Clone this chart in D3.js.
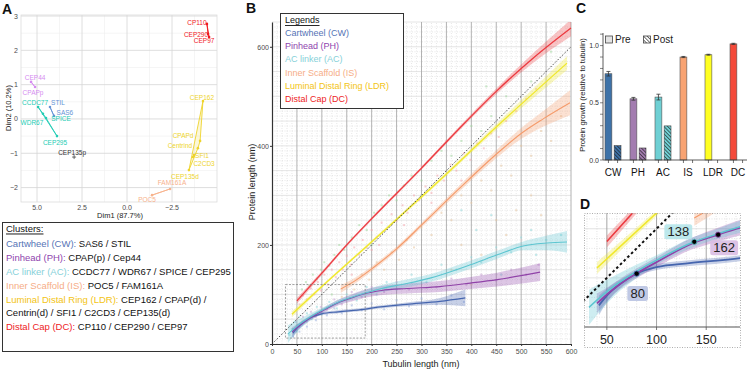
<!DOCTYPE html>
<html>
<head>
<meta charset="utf-8">
<title>Centriole protein growth</title>
<script src="https://d3js.org/d3.v7.min.js"></script>
<style>
  body { margin: 0; background: #fff; }
  svg { display: block; font-family: 'Liberation Sans', Arial, Helvetica, sans-serif; }
</style>
</head>
<body>
<div class="chart"></div>
<script>
// ---------- data ----------
var clusterKeys = ['CW', 'PH', 'AC', 'IS', 'LDR', 'DC']
var clusterNames = ['Cartwheel (CW)', 'Pinhead (PH)', 'AC linker (AC)', 'Inner Scaffold (IS)', 'Luminal Distal Ring (LDR)', 'Distal Cap (DC)']
var clusterMembers = [
  ['SAS6 / STIL'],
  ['CPAP(p) / Cep44'],
  ['CCDC77 / WDR67 / SPICE / CEP295'],
  ['POC5 / FAM161A'],
  ['CEP162 / CPAP(d) /', 'Centrin(d) / SFI1 / C2CD3 / CEP135(d)'],
  ['CP110 / CEP290 / CEP97']
]

// panel A : PCA
var pcaGene = ['SAS6', 'STIL', 'CPAPp', 'CEP44', 'CCDC77', 'WDR67', 'SPICE', 'CEP295', 'POC5', 'FAM161A',
  'CEP162', 'CPAPd', 'Centrind', 'SFI1', 'C2CD3', 'CEP135d', 'CP110', 'CEP290', 'CEP97', 'CEP135p']
var pcaCluster = ['CW', 'CW', 'PH', 'PH', 'AC', 'AC', 'AC', 'AC', 'IS', 'IS',
  'LDR', 'LDR', 'LDR', 'LDR', 'LDR', 'LDR', 'DC', 'DC', 'DC', 'none']
var pcaDim1 = [4.06, 4.28, 5.11, 5.33, 4.94, 4.67, 4.50, 3.89, -1.39, -2.39,
  -4.22, -4.06, -3.94, -3.72, -3.67, -3.44, -4.44, -4.50, -4.56, 2.94]
var pcaDim2 = [0.09, 0.35, 0.93, 1.08, 0.35, 0.15, 0.03, -0.50, -2.22, -2.04,
  0.52, -0.64, -0.85, -1.05, -1.11, -1.49, 2.77, 2.48, 2.39, -1.11]
var pcaXTicks = [5, 2.5, 0, -2.5]
var pcaYTicks = [-2, -1, 0, 1, 2, 3]

// panel B : fitted curves [tubulin, protein, band half-width]
var fitCW = [[42, 22, 10], [50, 32, 7], [65, 45, 4], [79, 54, 3], [100, 61, 3], [133, 65, 3], [184, 70, 3], [203, 73, 3], [270, 80, 4], [337, 86, 7], [388, 93, 17]]
var fitPH = [[40, 24, 10], [50, 33, 7], [65, 45, 5], [79, 54, 5], [100, 66, 5], [136, 85, 6], [159, 93, 7], [184, 101, 8], [220, 108, 9], [271, 112, 10], [337, 116, 11], [398, 123, 12], [452, 130, 14], [538, 145, 18]]
var fitAC = [[32, 20, 18], [50, 36, 12], [79, 56, 7], [100, 68, 5], [136, 86, 5], [159, 94, 5], [184, 102, 6], [220, 112, 7], [270, 122, 8], [317, 133, 8], [398, 160, 8], [452, 180, 8], [504, 198, 9], [552, 204, 15], [592, 206, 22]]
var fitIS = [[138, 111, 8], [170, 130, 6], [203, 154, 5], [250, 192, 5], [303, 243, 5], [375, 313, 6], [450, 383, 8], [500, 425, 11], [545, 455, 16], [598, 487, 25]]
var fitLDR = [[40, 60, 6], [100, 116, 3], [193, 200, 3], [337, 331, 4], [450, 438, 6], [592, 567, 14]]
var fitDC = [[50, 87, 6], [100, 143, 4], [150, 200, 3], [200, 253, 3], [300, 355, 3], [373, 432, 4], [450, 510, 6], [525, 578, 10], [600, 638, 17]]

// panel B : raw measurements (approximate, read off the cloud)
var ptsDC = [[55, 80], [62, 98], [70, 90], [78, 112], [85, 100], [92, 125], [98, 108], [105, 140], [112, 120], [120, 150], [128, 135], [135, 165], [142, 150], [150, 178], [158, 160], [165, 195], [175, 180], [182, 210], [190, 195], [200, 230], [210, 215], [220, 245], [230, 232], [240, 262], [250, 248], [262, 280], [272, 265], [285, 300], [295, 290], [308, 318], [320, 305], [332, 340], [345, 330], [358, 362], [370, 350], [385, 385], [398, 372], [412, 405], [425, 395], [440, 425], [455, 418], [470, 450], [490, 470], [510, 495], [530, 515], [250, 300], [300, 360], [350, 410], [200, 190], [160, 140], [215, 200], [265, 240], [320, 285], [380, 330]]
var ptsLDR = [[60, 110], [68, 125], [75, 118], [82, 140], [90, 132], [98, 150], [105, 165], [115, 158], [125, 180], [135, 200], [145, 190], [160, 215], [175, 240], [190, 230], [205, 265], [220, 280], [235, 300], [250, 290], [265, 320], [280, 340], [300, 330], [320, 370], [340, 390], [360, 380], [380, 410], [400, 440], [420, 430], [440, 460], [120, 100], [200, 200], [300, 300], [430, 520], [470, 500], [520, 530], [560, 590]]
var ptsIS = [[140, 95], [150, 120], [165, 110], [180, 140], [195, 130], [210, 165], [225, 150], [240, 185], [255, 170], [270, 210], [285, 195], [300, 235], [320, 220], [340, 265], [360, 250], [380, 300], [400, 285], [420, 330], [440, 310], [460, 360], [480, 340], [500, 400], [520, 380], [540, 430], [560, 410], [580, 460], [380, 200], [420, 180], [450, 250], [490, 270], [520, 300], [360, 150], [400, 120], [470, 220], [540, 260]]
var ptsAC = [[35, 18], [40, 30], [45, 45], [50, 25], [55, 55], [60, 40], [70, 62], [80, 50], [90, 75], [100, 60], [115, 85], [130, 72], [150, 100], [170, 88], [190, 115], [210, 100], [230, 125], [250, 110], [280, 140], [310, 125], [340, 160], [370, 150], [400, 175], [420, 165], [450, 195], [480, 185], [500, 215], [520, 230], [550, 210], [580, 220], [410, 230], [440, 260], [380, 270], [460, 140], [530, 180]]
var ptsPH = [[42, 30], [48, 45], [55, 35], [62, 55], [70, 45], [78, 65], [88, 55], [98, 75], [110, 70], [125, 90], [140, 80], [160, 105], [180, 95], [200, 115], [225, 105], [250, 125], [275, 110], [300, 128], [330, 115], [360, 132], [390, 120], [420, 140], [450, 128], [480, 150], [510, 140], [535, 160]]
var ptsCW = [[42, 15], [48, 30], [55, 25], [62, 45], [70, 35], [78, 55], [88, 48], [98, 65], [110, 58], [125, 72], [140, 62], [160, 78], [180, 68], [200, 82], [225, 70], [250, 88], [275, 76], [300, 92], [330, 80], [360, 98], [385, 85]]
var zoomBox = [27, 187, 12, 120]  // tubulin min/max, protein min/max

// panel C : growth relative to tubulin
var growthPre = [0.754, 0.535, 0.550, 0.900, 0.920, 1.015]
var growthPreErr = [0.020, 0.012, 0.025, 0.005, 0.004, 0.005]
var growthPost = [0.125, 0.105, 0.298, null, null, null]

// panel D : highlighted tubulin lengths
var markLength = [80, 138, 162]
var markCluster = ['CW', 'AC', 'PH']

// ---------- styling ----------
var W = 749, H = 369
var legendColor = { CW: '#5674b6', PH: '#8f45ae', AC: '#86d1d9', IS: '#f6ad87', LDR: '#f3c414', DC: '#ee1c25' }
var pcaColor = { CW: '#6493d6', PH: '#d58cf0', AC: '#22ccb4', IS: '#f7b28c', LDR: '#eed42c', DC: '#f0191e', none: '#333' }
var lineColor = { CW: '#4565ae', PH: '#9042a8', AC: '#5cc5d0', IS: '#f59b6b', LDR: '#f0e82c', DC: '#ec3a40' }
var ptColor = { CW: '#9fb2de', PH: '#c9a0d4', AC: '#8fd8dd', IS: '#e8c6a0', LDR: '#a3d9a0', DC: '#f4a8ae' }
var barColor = { CW: '#3d72a8', PH: '#a37cb0', AC: '#6fd0d4', IS: '#f8a372', LDR: '#ffff22', DC: '#f44a3a' }

var fits = { CW: fitCW, PH: fitPH, AC: fitAC, IS: fitIS, LDR: fitLDR, DC: fitDC }
var pts = { CW: ptsCW, PH: ptsPH, AC: ptsAC, IS: ptsIS, LDR: ptsLDR, DC: ptsDC }

var svg = d3.select('.chart').append('svg').attr('width', W).attr('height', H)
var defs = svg.append('defs')

function panelLetter(t, x, y) {
  svg.append('text').attr('x', x).attr('y', y).attr('font-size', 14).attr('font-weight', 'bold').attr('fill', '#111').text(t)
}

/**
 * Panel A : PCA with convex hulls
 */
var xA = d3.scaleLinear().domain([5.89, -5.0]).range([21, 217])
var yA = d3.scaleLinear().domain([-2.42, 3.03]).range([202, 15])
var gA = svg.append('g')

d3.range(-3.75, 5.9, 2.5).forEach(function (v) {
  gA.append('line').attr('x1', xA(v)).attr('x2', xA(v)).attr('y1', 15).attr('y2', 202).attr('stroke', '#efefef').attr('stroke-width', 0.6)
})
d3.range(-2.5, 3.1, 1).forEach(function (v) {
  if (yA(v) <= 202) gA.append('line').attr('x1', 21).attr('x2', 217).attr('y1', yA(v)).attr('y2', yA(v)).attr('stroke', '#efefef').attr('stroke-width', 0.6)
})
pcaXTicks.forEach(function (v) {
  gA.append('line').attr('x1', xA(v)).attr('x2', xA(v)).attr('y1', 15).attr('y2', 202).attr('stroke', '#d6d6d6').attr('stroke-width', 0.8)
  gA.append('text').attr('x', xA(v)).attr('y', 210).attr('text-anchor', 'middle').attr('font-size', 7).attr('fill', '#4d4d4d').text(d3.format('.1f')(v).replace('-', '\u2212'))
})
pcaYTicks.forEach(function (v) {
  gA.append('line').attr('x1', 21).attr('x2', 217).attr('y1', yA(v)).attr('y2', yA(v)).attr('stroke', '#d6d6d6').attr('stroke-width', 0.8)
  gA.append('text').attr('x', 18).attr('y', yA(v) + 2.5).attr('text-anchor', 'end').attr('font-size', 7).attr('fill', '#4d4d4d').text(String(v).replace('-', '\u2212'))
})
gA.append('rect').attr('x', 21).attr('y', 15).attr('width', 196).attr('height', 187).attr('fill', 'none').attr('stroke', '#dcdcdc').attr('stroke-width', 0.8)

var pca = pcaGene.map(function (g, i) {
  return { gene: g, cl: pcaCluster[i], x: xA(pcaDim1[i]), y: yA(pcaDim2[i]) }
})
// label nudges (px), same order as pcaGene
var pcaNudge = [[11, -3], [8, -4], [-2, 5], [4, -4], [-3, -4], [-11, 9], [15, 1], [-2, 6], [-5, 4], [2, -6],
  [-1, -4], [-17, -5], [-18, -3], [8, 1], [11, 6], [-4, 6], [-10, -1], [-12, 1], [-5, 4], [-2, -5]]

clusterKeys.forEach(function (k) {
  var p = pca.filter(function (d) { return d.cl === k }).map(function (d) { return [d.x, d.y] })
  var hull = p.length >= 3 ? d3.polygonHull(p) : p
  gA.append('path').attr('d', 'M' + hull.join('L') + 'Z')
    .attr('fill', pcaColor[k]).attr('fill-opacity', 0.18)
    .attr('stroke', pcaColor[k]).attr('stroke-width', 0.9).attr('stroke-linejoin', 'round')
})
pca.forEach(function (d, i) {
  if (d.cl === 'none') {
    gA.append('path').attr('d', 'M' + (d.x - 2) + ',' + d.y + 'h4M' + d.x + ',' + (d.y - 2) + 'v4').attr('stroke', '#333').attr('stroke-width', 0.7)
  } else {
    gA.append('circle').attr('cx', d.x).attr('cy', d.y).attr('r', 1.3).attr('fill', pcaColor[d.cl])
  }
  gA.append('text').attr('x', d.x + pcaNudge[i][0]).attr('y', d.y + pcaNudge[i][1])
    .attr('text-anchor', 'middle').attr('dominant-baseline', 'central')
    .attr('font-size', 6.5).attr('fill', pcaColor[d.cl]).text(d.gene)
})
gA.append('text').attr('x', 120).attr('y', 218).attr('text-anchor', 'middle').attr('font-size', 7.5).attr('fill', '#222').text('Dim1 (87.7%)')
gA.append('text').attr('transform', 'translate(11,108) rotate(-90)').attr('text-anchor', 'middle').attr('font-size', 7.5).attr('fill', '#222').text('Dim2 (10.2%)')
panelLetter('A', 2, 14)

// cluster legend box
var gAL = svg.append('g')
gAL.append('rect').attr('x', 2.5).attr('y', 222.5).attr('width', 231).attr('height', 129).attr('fill', '#fff').attr('stroke', '#333').attr('stroke-width', 1)
gAL.append('text').attr('x', 6).attr('y', 228).attr('dominant-baseline', 'central').attr('font-size', 9.5)
  .attr('text-decoration', 'underline').attr('fill', '#111').text('Clusters:')
var rowY = 243
clusterKeys.forEach(function (k, i) {
  var t = gAL.append('text').attr('x', 6).attr('y', rowY).attr('dominant-baseline', 'central').attr('font-size', 9.5)
  t.append('tspan').attr('fill', legendColor[k]).text(clusterNames[i] + ':')
  t.append('tspan').attr('fill', '#111').text(' ' + clusterMembers[i][0])
  rowY += 14
  for (var j = 1; j < clusterMembers[i].length; j++) {
    gAL.append('text').attr('x', 6).attr('y', rowY - 1).attr('dominant-baseline', 'central').attr('font-size', 9.5).attr('fill', '#111').text(clusterMembers[i][j])
    rowY += 13
  }
})

/**
 * Panel B : protein vs tubulin length
 */
var xB = d3.scaleLinear().domain([0, 600]).range([272, 571])
var yB = d3.scaleLinear().domain([0, 650]).range([344, 22])
var gB = svg.append('g')

defs.append('clipPath').attr('id', 'clipB').append('rect').attr('x', 272).attr('y', 22).attr('width', 300).attr('height', 322)
defs.append('clipPath').attr('id', 'clipD').append('rect').attr('x', 584).attr('y', 213).attr('width', 156).attr('height', 114)

function grid(g, xs, ys, xv, yv, major, majorCol, hMajorCol, minorCol) {
  var x0 = xs.range()[0], x1 = xs.range()[1], y0 = ys.range()[0], y1 = ys.range()[1]
  yv.forEach(function (v) {
    var m = v % major === 0
    g.append('line').attr('x1', x0).attr('x2', x1).attr('y1', ys(v)).attr('y2', ys(v))
      .attr('stroke', m ? hMajorCol : minorCol).attr('stroke-width', m ? 0.8 : 0.6)
      .attr('stroke-dasharray', m ? null : '1,1.5')
  })
  xv.forEach(function (v) {
    var m = v % major === 0
    g.append('line').attr('x1', xs(v)).attr('x2', xs(v)).attr('y1', y0).attr('y2', y1)
      .attr('stroke', m ? majorCol : minorCol).attr('stroke-width', m ? 0.9 : 0.6)
      .attr('stroke-dasharray', m ? null : '1,1.5')
  })
}
grid(gB, xB, yB, d3.range(10, 601, 10), d3.range(10, 651, 10), 50, '#a9a9a9', '#dedede', '#d6d6d6')

function drawFits(g, xs, ys, lw, bandOp) {
  clusterKeys.forEach(function (k) {
    var area = d3.area().curve(d3.curveMonotoneX)
      .x(function (d) { return xs(d[0]) })
      .y0(function (d) { return ys(d[1] - d[2]) })
      .y1(function (d) { return ys(d[1] + d[2]) })
    g.append('path').attr('d', area(fits[k])).attr('fill', lineColor[k]).attr('fill-opacity', bandOp)
  })
  clusterKeys.forEach(function (k) {
    var line = d3.line().curve(d3.curveMonotoneX)
      .x(function (d) { return xs(d[0]) })
      .y(function (d) { return ys(d[1]) })
    g.append('path').attr('d', line(fits[k])).attr('fill', 'none').attr('stroke', lineColor[k]).attr('stroke-width', lw[k])
  })
}

var gBc = gB.append('g').attr('clip-path', 'url(#clipB)')
clusterKeys.forEach(function (k) {
  gBc.selectAll(null).data(pts[k]).enter().append('rect')
    .attr('x', function (d) { return xB(d[0]) - 1 }).attr('y', function (d) { return yB(d[1]) - 1 })
    .attr('width', 2).attr('height', 2).attr('fill', ptColor[k]).attr('opacity', 0.55)
})
drawFits(gBc, xB, yB, { CW: 1.2, PH: 1.2, AC: 1.1, IS: 1.1, LDR: 1.3, DC: 1.3 }, 0.3)
gBc.append('line').attr('x1', xB(0)).attr('y1', yB(0)).attr('x2', xB(600)).attr('y2', yB(600))
  .attr('stroke', '#333').attr('stroke-width', 0.9).attr('stroke-dasharray', '1.5,1.8')
gB.append('rect').attr('x', xB(zoomBox[0])).attr('y', yB(zoomBox[3]))
  .attr('width', xB(zoomBox[1]) - xB(zoomBox[0])).attr('height', yB(zoomBox[2]) - yB(zoomBox[3]))
  .attr('fill', 'none').attr('stroke', '#777').attr('stroke-width', 0.7).attr('stroke-dasharray', '2,1.5')

var axB = gB.append('g').attr('transform', 'translate(0,344)')
  .call(d3.axisBottom(xB).tickValues(d3.range(0, 601, 50)).tickSize(2).tickSizeOuter(0))
var ayB = gB.append('g').attr('transform', 'translate(272,0)')
  .call(d3.axisLeft(yB).tickValues([0, 200, 400, 600]).tickSize(2).tickSizeOuter(0))
;[axB, ayB].forEach(function (a) {
  a.select('.domain').attr('stroke', '#333').attr('stroke-width', 1.2)
  a.selectAll('.tick line').attr('stroke', '#333')
  a.selectAll('.tick text').attr('font-size', 7).attr('fill', '#4d4d4d').attr('font-family', null)
})
ayB.selectAll('.tick text').attr('x', -3)
gB.append('text').attr('x', 421).attr('y', 367).attr('text-anchor', 'middle').attr('font-size', 9).attr('fill', '#222').text('Tubulin length  (nm)')
gB.append('text').attr('transform', 'translate(255,182) rotate(-90)').attr('text-anchor', 'middle').attr('font-size', 9).attr('fill', '#222').text('Protein length (nm)')

// legend
var gBL = gB.append('g')
gBL.append('rect').attr('x', 280.5).attr('y', 13.5).attr('width', 123).attr('height', 95).attr('fill', '#fff').attr('stroke', '#333').attr('stroke-width', 1)
gBL.append('text').attr('x', 285).attr('y', 20).attr('dominant-baseline', 'central').attr('font-size', 9)
  .attr('text-decoration', 'underline').attr('fill', '#111').text('Legends')
clusterKeys.forEach(function (k, i) {
  gBL.append('text').attr('x', 285).attr('y', 33 + i * 13.2).attr('dominant-baseline', 'central').attr('font-size', 9)
    .attr('fill', legendColor[k]).text(clusterNames[i])
})
panelLetter('B', 246, 13)

/**
 * Panel C : protein growth relative to tubulin
 */
var xC = d3.scaleBand().domain(clusterKeys).range([603, 753])
var xCin = d3.scaleBand().domain(['Pre', 'Post']).range([2, 18]).paddingInner(0.25)
var yC = d3.scaleLinear().domain([0, 1.11]).range([160, 33])
var gC = svg.append('g')

var pat = defs.append('pattern').attr('id', 'hatch').attr('patternUnits', 'userSpaceOnUse')
  .attr('width', 2.6).attr('height', 2.6).attr('patternTransform', 'rotate(-45)')
pat.append('line').attr('x1', 0).attr('y1', 0).attr('x2', 0).attr('y2', 2.6).attr('stroke', '#1a1a1a').attr('stroke-width', 1.2)

clusterKeys.forEach(function (k, i) {
  var x0 = xC(k)
  var bw = xCin.bandwidth()
  var xp = x0 + xCin('Pre')
  gC.append('rect').attr('x', xp).attr('y', yC(growthPre[i])).attr('width', bw).attr('height', yC(0) - yC(growthPre[i]))
    .attr('fill', barColor[k]).attr('stroke', '#555').attr('stroke-width', 0.6)
  var cx = xp + bw / 2
  gC.append('path').attr('d', 'M' + cx + ',' + yC(growthPre[i] - growthPreErr[i]) + 'V' + yC(growthPre[i] + growthPreErr[i]) +
    'M' + (cx - 2) + ',' + yC(growthPre[i] + growthPreErr[i]) + 'h4' +
    'M' + (cx - 2) + ',' + yC(growthPre[i] - growthPreErr[i]) + 'h4')
    .attr('stroke', '#333').attr('stroke-width', 0.8).attr('fill', 'none')
  if (growthPost[i] != null) {
    var xq = x0 + xCin('Post')
    var h = yC(0) - yC(growthPost[i])
    gC.append('rect').attr('x', xq).attr('y', yC(growthPost[i])).attr('width', bw).attr('height', h).attr('fill', barColor[k])
    gC.append('rect').attr('x', xq).attr('y', yC(growthPost[i])).attr('width', bw).attr('height', h)
      .attr('fill', 'url(#hatch)').attr('stroke', '#444').attr('stroke-width', 0.6)
  }
  ;['Pre', 'Post'].forEach(function (s) {
    var tx = x0 + xCin(s) + bw / 2
    gC.append('line').attr('x1', tx).attr('x2', tx).attr('y1', 160).attr('y2', 163).attr('stroke', '#333').attr('stroke-width', 0.7)
  })
  gC.append('text').attr('x', x0 + 10).attr('y', 176).attr('text-anchor', 'middle').attr('font-size', 10).attr('fill', '#111').text(k)
})
gC.append('line').attr('x1', 603).attr('x2', 747).attr('y1', 160).attr('y2', 160).attr('stroke', '#333').attr('stroke-width', 0.8)
gC.append('line').attr('x1', 603).attr('x2', 603).attr('y1', 33).attr('y2', 160).attr('stroke', '#333').attr('stroke-width', 0.8)
d3.range(0, 12).forEach(function (i) {
  var v = i / 10
  gC.append('line').attr('x1', 600).attr('x2', 603).attr('y1', yC(v)).attr('y2', yC(v)).attr('stroke', '#333').attr('stroke-width', 0.6)
})
;[0, 0.5, 1].forEach(function (v) {
  gC.append('text').attr('x', 599).attr('y', yC(v) + 2.5).attr('text-anchor', 'end').attr('font-size', 7).attr('fill', '#333').text(v.toFixed(1))
})
gC.append('text').attr('transform', 'translate(585,95) rotate(-90)').attr('text-anchor', 'middle').attr('font-size', 7.6).attr('fill', '#222')
  .text('Protein growth (relative to tubulin)')
// legend
gC.append('rect').attr('x', 605.5).attr('y', 36).attr('width', 7).attr('height', 7).attr('fill', '#e4e4e4').attr('stroke', '#444').attr('stroke-width', 0.8)
gC.append('text').attr('x', 615).attr('y', 39.5).attr('dominant-baseline', 'central').attr('font-size', 10).attr('fill', '#222').text('Pre')
gC.append('rect').attr('x', 643.5).attr('y', 36).attr('width', 7).attr('height', 7).attr('fill', 'url(#hatch)').attr('stroke', '#444').attr('stroke-width', 0.8)
gC.append('text').attr('x', 653).attr('y', 39.5).attr('dominant-baseline', 'central').attr('font-size', 10).attr('fill', '#222').text('Post')
panelLetter('C', 576, 13)

/**
 * Panel D : zoom on the early growth
 */
var xD = d3.scaleLinear().domain([27, 184]).range([584, 740])
var yD = d3.scaleLinear().domain([0, 116]).range([327, 213])
var gD = svg.append('g')
grid(gD, xD, yD, d3.range(30, 181, 10), d3.range(10, 111, 10), 50, '#9c9c9c', '#dcdcdc', '#d2d2d2')
var gDc = gD.append('g').attr('clip-path', 'url(#clipD)')
drawFits(gDc, xD, yD, { CW: 1.8, PH: 1.8, AC: 1.5, IS: 1.2, LDR: 1.6, DC: 1.6 }, 0.3)
gDc.append('line').attr('x1', xD(0)).attr('y1', yD(0)).attr('x2', xD(180)).attr('y2', yD(180))
  .attr('stroke', '#111').attr('stroke-width', 2).attr('stroke-dasharray', '2.6,2.6')

function fitAt(k, x) {
  var f = fits[k]
  return d3.scaleLinear().domain(f.map(function (d) { return d[0] })).range(f.map(function (d) { return d[1] }))(x)
}
var markNudge = [[1, 20], [-16, -10], [6, 13]]
var markFill = { CW: '#b9c3e2', AC: '#b6e6ea', PH: '#d9bde3' }
markLength.forEach(function (v, i) {
  var k = markCluster[i]
  var px = xD(v), py = yD(fitAt(k, v))
  gD.append('circle').attr('cx', px).attr('cy', py).attr('r', 2.6).attr('fill', '#000').attr('stroke', lineColor[k]).attr('stroke-width', 0.8)
  var lx = px + markNudge[i][0], ly = py + markNudge[i][1]
  var tw = String(v).length * 7.3 + 6
  gD.append('rect').attr('x', lx - tw / 2).attr('y', ly - 7.5).attr('width', tw).attr('height', 15).attr('rx', 2.5)
    .attr('fill', markFill[k]).attr('opacity', 0.9)
  gD.append('text').attr('x', lx).attr('y', ly).attr('text-anchor', 'middle').attr('dominant-baseline', 'central')
    .attr('font-size', 13).attr('fill', '#222').text(v)
})
gD.append('line').attr('x1', 584).attr('x2', 740).attr('y1', 327).attr('y2', 327).attr('stroke', '#555').attr('stroke-width', 1)
;[50, 100, 150].forEach(function (v) {
  gD.append('line').attr('x1', xD(v)).attr('x2', xD(v)).attr('y1', 327).attr('y2', 330).attr('stroke', '#555').attr('stroke-width', 0.8)
  gD.append('text').attr('x', xD(v)).attr('y', 340).attr('text-anchor', 'middle').attr('dominant-baseline', 'central')
    .attr('font-size', 12.5).attr('fill', '#222').text(v)
})
gD.append('rect').attr('x', 584.5).attr('y', 213.5).attr('width', 156).attr('height', 134)
  .attr('fill', 'none').attr('stroke', '#999').attr('stroke-width', 0.8).attr('stroke-dasharray', '1,1.5')
panelLetter('D', 580, 209)
</script>
</body>
</html>
